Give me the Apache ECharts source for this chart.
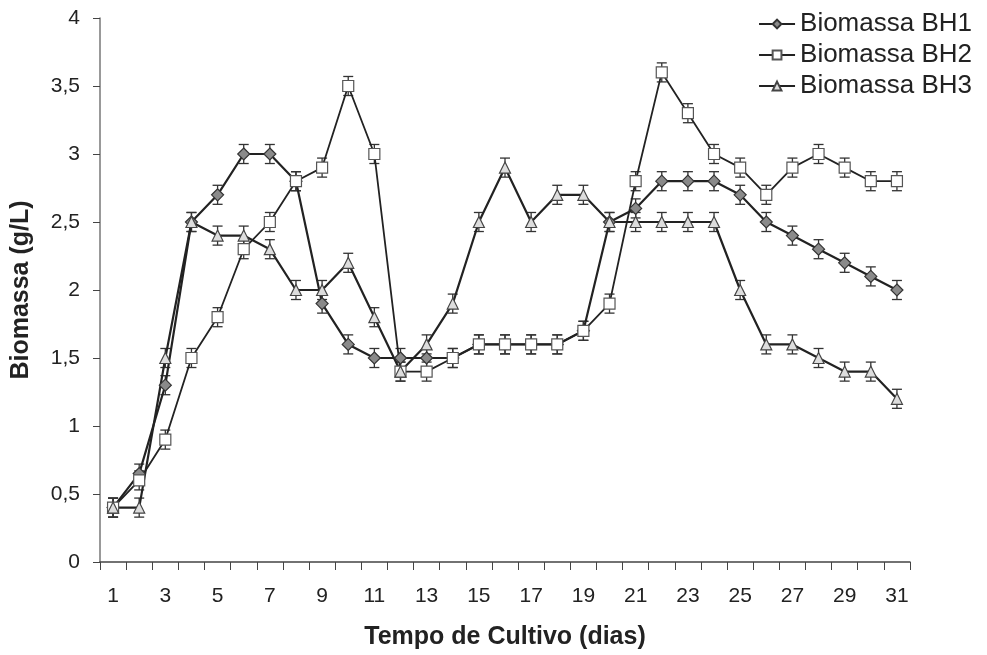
<!DOCTYPE html>
<html><head><meta charset="utf-8">
<script src="https://cdn.jsdelivr.net/npm/echarts@6/dist/echarts.min.js"></script>
<style>html,body{margin:0;padding:0;background:#fff}#c{width:987px;height:655px}</style>
</head><body><div id="c"></div>
<script>
const days = ['1','2','3','4','5','6','7','8','9','10','11','12','13','14','15','16','17','18','19','20','21','22','23','24','25','26','27','28','29','30','31'];
const bh1 = [0.4,0.65,1.3,2.5,2.7,3.0,3.0,2.8,1.9,1.6,1.5,1.5,1.5,1.5,1.6,1.6,1.6,1.6,1.7,2.5,2.6,2.8,2.8,2.8,2.7,2.5,2.4,2.3,2.2,2.1,2.0];
const bh2 = [0.4,0.6,0.9,1.5,1.8,2.3,2.5,2.8,2.9,3.5,3.0,1.4,1.4,1.5,1.6,1.6,1.6,1.6,1.7,1.9,2.8,3.6,3.3,3.0,2.9,2.7,2.9,3.0,2.9,2.8,2.8];
const bh3 = [0.4,0.4,1.5,2.5,2.4,2.4,2.3,2.0,2.0,2.2,1.8,1.4,1.6,1.9,2.5,2.9,2.5,2.7,2.7,2.5,2.5,2.5,2.5,2.5,2.0,1.6,1.6,1.5,1.4,1.4,1.2];
const errHalf = 0.07;
const seriesNames = ['Biomassa BH1','Biomassa BH2','Biomassa BH3'];

const chart = echarts.init(document.getElementById('c'));
function errSeries(vals){
  return {
    type:'custom', silent:true, z:1,
    data: vals.map((v,i)=>[i, v-errHalf, v+errHalf]),
    renderItem:function(params, api){
      const lo = api.coord([api.value(0), api.value(1)]);
      const hi = api.coord([api.value(0), api.value(2)]);
      const w = 5;
      const st = {stroke:'#333', lineWidth:1.3};
      return {type:'group', children:[
        {type:'line', shape:{x1:lo[0],y1:lo[1],x2:hi[0],y2:hi[1]}, style:st},
        {type:'line', shape:{x1:lo[0]-w,y1:lo[1],x2:lo[0]+w,y2:lo[1]}, style:st},
        {type:'line', shape:{x1:hi[0]-w,y1:hi[1],x2:hi[0]+w,y2:hi[1]}, style:st}
      ]};
    }
  };
}
const font = 'Liberation Sans, Arial, sans-serif';
chart.setOption({
  animation:false,
  backgroundColor:'#fff',
  grid:{left:100, right:77, top:18, bottom:93},
  legend:{
    orient:'vertical', right:10, top:6, itemGap:5, itemWidth:36, itemHeight:11,
    data:seriesNames,
    textStyle:{fontFamily:font, fontSize:26, color:'#222'}
  },
  xAxis:{
    type:'category', data:days, boundaryGap:true,
    name:'Tempo de Cultivo (dias)', nameLocation:'middle', nameGap:63,
    nameTextStyle:{fontFamily:font, fontSize:25, fontWeight:'bold', color:'#222'},
    axisLine:{lineStyle:{color:'#444', width:1.5}},
    axisTick:{show:true, alignWithLabel:false, interval:0, length:8, lineStyle:{color:'#444'}},
    axisLabel:{interval:1, fontFamily:font, fontSize:21, color:'#222', margin:24},
    splitLine:{show:false}
  },
  yAxis:{
    type:'value', min:0, max:4, interval:0.5,
    name:'Biomassa (g/L)', nameLocation:'middle', nameGap:66,
    nameTextStyle:{fontFamily:font, fontSize:25, fontWeight:'bold', color:'#222'},
    axisLine:{show:true, lineStyle:{color:'#777', width:1.5}},
    axisTick:{show:true, length:7, lineStyle:{color:'#444'}},
    axisLabel:{fontFamily:font, fontSize:21, color:'#222', margin:20,
      formatter:v=>String(v).replace('.',',')},
    splitLine:{show:false}
  },
  series:[
    errSeries(bh1), errSeries(bh2), errSeries(bh3),
    {name:seriesNames[0], type:'line', data:bh1, z:3, symbol:'diamond', symbolSize:12,
     lineStyle:{color:'#222', width:2.2}, itemStyle:{color:'#8a8a8a', borderColor:'#333', borderWidth:1.2}},
    {name:seriesNames[1], type:'line', data:bh2, z:3, symbol:'rect', symbolSize:11,
     lineStyle:{color:'#222', width:1.8}, itemStyle:{color:'#fff', borderColor:'#555', borderWidth:1.2}},
    {name:seriesNames[2], type:'line', data:bh3, z:3, symbol:'triangle', symbolSize:11,
     lineStyle:{color:'#222', width:2.2}, itemStyle:{color:'#ddd', borderColor:'#444', borderWidth:1.2}}
  ]
});
</script></body></html>
